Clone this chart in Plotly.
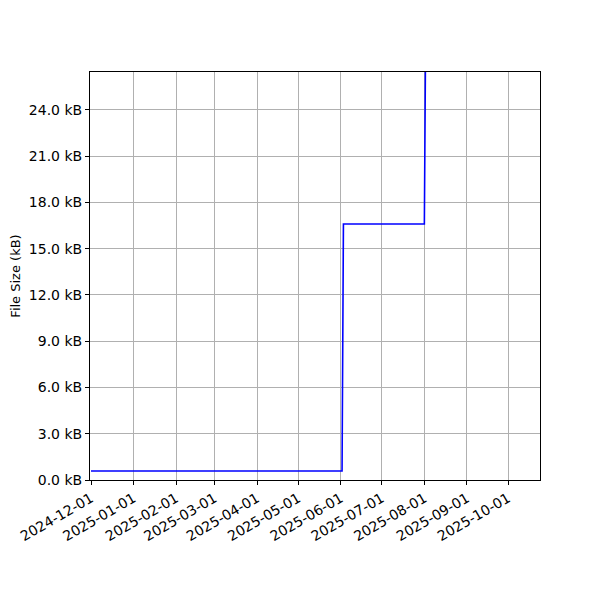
import plotly.graph_objects as go

dates = ["2024-12-01", "2025-06-02", "2025-06-03", "2025-08-01", "2025-08-02"]
sizes_kb = [0.58, 0.58, 16.6, 16.6, 30.0]

x_ticks = ["2024-12-01", "2025-01-01", "2025-02-01", "2025-03-01", "2025-04-01",
           "2025-05-01", "2025-06-01", "2025-07-01", "2025-08-01", "2025-09-01", "2025-10-01"]
y_ticks = [0, 3, 6, 9, 12, 15, 18, 21, 24]
y_labels = [f"{v:.1f} kB" for v in y_ticks]

fig = go.Figure()
fig.add_trace(go.Scatter(x=dates, y=sizes_kb, mode="lines",
                         line=dict(color="#0000ff", width=1.6), showlegend=False))

axis_common = dict(showline=True, linecolor="black", linewidth=1, mirror=True,
                   showgrid=True, gridcolor="#b0b0b0", gridwidth=1,
                   ticks="outside", ticklen=4, tickcolor="black", zeroline=False,
                   automargin=False,
                   tickfont=dict(family="DejaVu Sans", size=14, color="black"))

fig.update_layout(
    width=600, height=600,
    margin=dict(l=82, r=68, t=64, b=128),
    paper_bgcolor="white", plot_bgcolor="white",
    font=dict(family="DejaVu Sans", size=13, color="black"),
    xaxis=dict(range=["2024-11-30 06:30", "2025-10-24 07:00"], tickvals=x_ticks, ticktext=x_ticks,
               tickangle=-30, **axis_common),
    yaxis=dict(range=[0, 26.46], tickvals=y_ticks, ticktext=y_labels,
               title=dict(text="File Size (kB)", font=dict(size=13), standoff=8), **axis_common),
)

fig.write_html("out.html")
